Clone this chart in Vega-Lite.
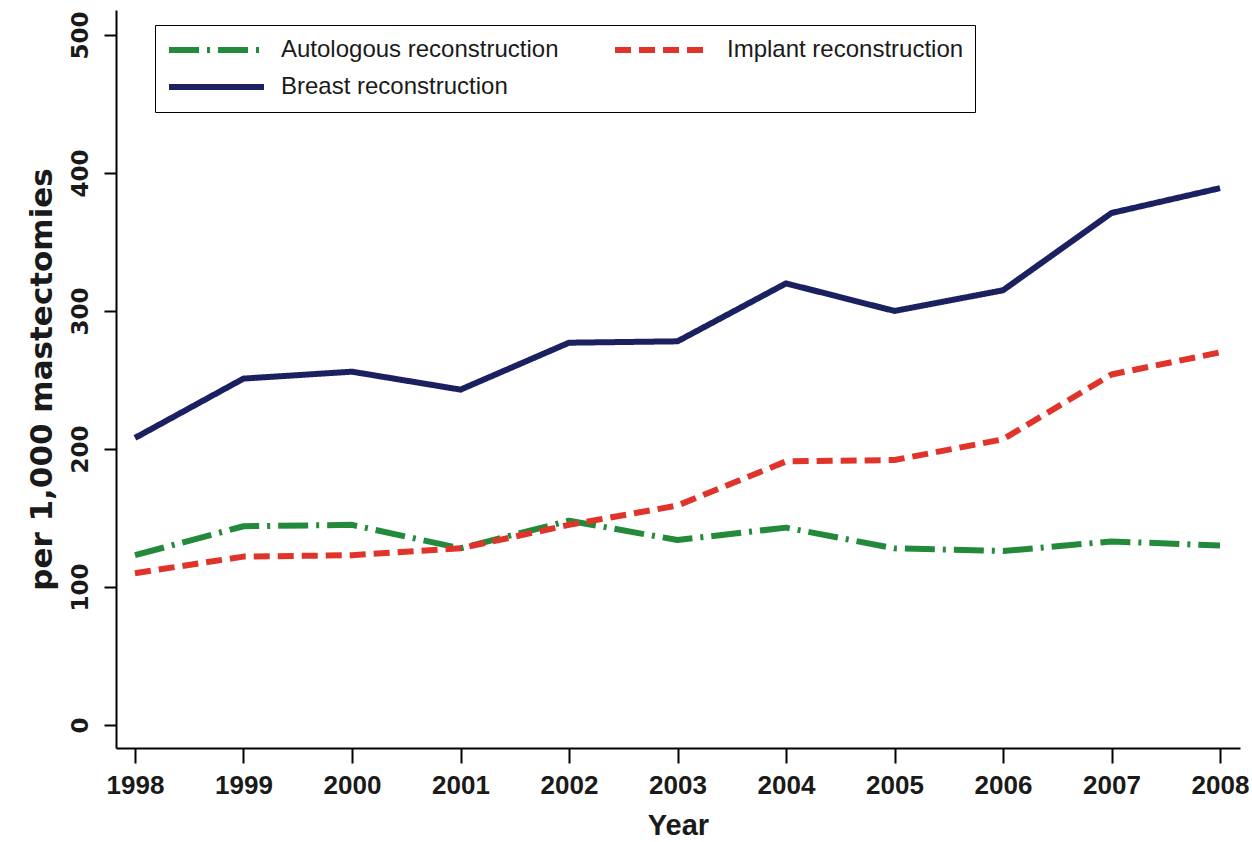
{
  "$schema": "https://vega.github.io/schema/vega-lite/v6.json",
  "width": 1124,
  "height": 738,
  "autosize": {"type": "none"},
  "padding": {"left": 116, "top": 10, "right": 12, "bottom": 94},
  "background": "white",
  "config": {"view": {"stroke": null}},
  "data": {
    "values": [
      {"year": 1998, "series": "Autologous reconstruction", "rate": 123},
      {"year": 1999, "series": "Autologous reconstruction", "rate": 144},
      {"year": 2000, "series": "Autologous reconstruction", "rate": 145},
      {"year": 2001, "series": "Autologous reconstruction", "rate": 128},
      {"year": 2002, "series": "Autologous reconstruction", "rate": 148},
      {"year": 2003, "series": "Autologous reconstruction", "rate": 134},
      {"year": 2004, "series": "Autologous reconstruction", "rate": 143},
      {"year": 2005, "series": "Autologous reconstruction", "rate": 128},
      {"year": 2006, "series": "Autologous reconstruction", "rate": 126},
      {"year": 2007, "series": "Autologous reconstruction", "rate": 133},
      {"year": 2008, "series": "Autologous reconstruction", "rate": 130},
      {"year": 1998, "series": "Implant reconstruction", "rate": 110},
      {"year": 1999, "series": "Implant reconstruction", "rate": 122},
      {"year": 2000, "series": "Implant reconstruction", "rate": 123},
      {"year": 2001, "series": "Implant reconstruction", "rate": 128},
      {"year": 2002, "series": "Implant reconstruction", "rate": 145},
      {"year": 2003, "series": "Implant reconstruction", "rate": 159},
      {"year": 2004, "series": "Implant reconstruction", "rate": 191},
      {"year": 2005, "series": "Implant reconstruction", "rate": 192},
      {"year": 2006, "series": "Implant reconstruction", "rate": 207},
      {"year": 2007, "series": "Implant reconstruction", "rate": 254},
      {"year": 2008, "series": "Implant reconstruction", "rate": 270},
      {"year": 1998, "series": "Breast reconstruction", "rate": 208},
      {"year": 1999, "series": "Breast reconstruction", "rate": 251},
      {"year": 2000, "series": "Breast reconstruction", "rate": 256},
      {"year": 2001, "series": "Breast reconstruction", "rate": 243},
      {"year": 2002, "series": "Breast reconstruction", "rate": 277},
      {"year": 2003, "series": "Breast reconstruction", "rate": 278},
      {"year": 2004, "series": "Breast reconstruction", "rate": 320},
      {"year": 2005, "series": "Breast reconstruction", "rate": 300},
      {"year": 2006, "series": "Breast reconstruction", "rate": 315},
      {"year": 2007, "series": "Breast reconstruction", "rate": 371},
      {"year": 2008, "series": "Breast reconstruction", "rate": 389}
    ]
  },
  "mark": {"type": "line", "strokeWidth": 6, "strokeCap": "butt", "strokeJoin": "round"},
  "encoding": {
    "x": {
      "field": "year",
      "type": "quantitative",
      "scale": {"domain": [1997.825, 2008.184], "nice": false, "zero": false},
      "axis": {
        "values": [1998, 1999, 2000, 2001, 2002, 2003, 2004, 2005, 2006, 2007, 2008],
        "format": "d",
        "title": "Year",
        "grid": false,
        "domainColor": "#000",
        "domainWidth": 2,
        "tickColor": "#000",
        "tickWidth": 2,
        "tickSize": 15,
        "labelFont": "Liberation Sans",
        "labelFontSize": 26,
        "labelFontWeight": "bold",
        "labelColor": "#1a1a1a",
        "labelPadding": 9,
        "titleFont": "Liberation Sans",
        "titleFontSize": 29,
        "titleFontWeight": "bold",
        "titleColor": "#1a1a1a",
        "titlePadding": 13
      }
    },
    "y": {
      "field": "rate",
      "type": "quantitative",
      "scale": {"domain": [-16.7, 518.1], "nice": false, "zero": false},
      "axis": {
        "values": [0, 100, 200, 300, 400, 500],
        "title": "per 1,000 mastectomies",
        "grid": false,
        "domainColor": "#000",
        "domainWidth": 2,
        "tickColor": "#000",
        "tickWidth": 2,
        "tickSize": 12,
        "labelAngle": -90,
        "labelFont": "DejaVu Sans",
        "labelFontSize": 23,
        "labelFontWeight": "bold",
        "labelColor": "#1a1a1a",
        "labelPadding": 12,
        "titleFont": "DejaVu Sans",
        "titleFontSize": 31,
        "titleFontWeight": "bold",
        "titleColor": "#1a1a1a",
        "titlePadding": 11
      }
    },
    "color": {
      "field": "series",
      "type": "nominal",
      "scale": {
        "domain": ["Autologous reconstruction", "Implant reconstruction", "Breast reconstruction"],
        "range": ["#238a3c", "#e0332a", "#1b2061"]
      },
      "legend": {
        "title": null,
        "orient": "none",
        "legendX": 39,
        "legendY": 15,
        "direction": "horizontal",
        "columns": 2,
        "columnPadding": 53,
        "rowPadding": 9,
        "clipHeight": 28,
        "padding": 11,
        "strokeColor": "#000",
        "fillColor": "#fff",
        "symbolType": "stroke",
        "symbolSize": 9025,
        "symbolStrokeWidth": 6,
        "labelFont": "Liberation Sans",
        "labelFontSize": 24,
        "labelColor": "#1a1a1a",
        "labelOffset": 14,
        "labelLimit": 500
      }
    },
    "strokeDash": {
      "field": "series",
      "type": "nominal",
      "scale": {
        "domain": ["Autologous reconstruction", "Implant reconstruction", "Breast reconstruction"],
        "range": [[30, 8, 3, 8], [16, 8], [1, 0]]
      },
      "legend": null
    }
  }
}
